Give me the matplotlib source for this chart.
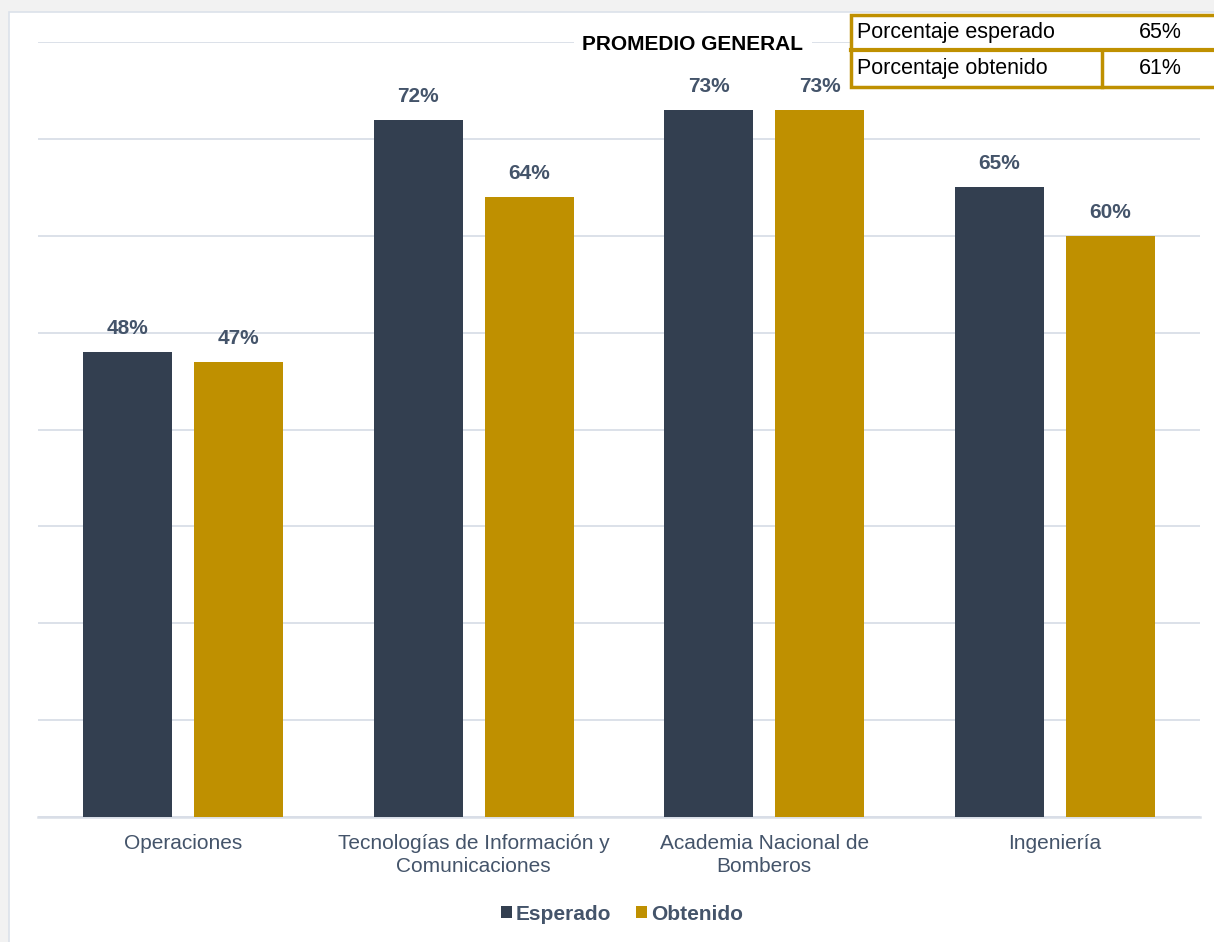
import matplotlib
matplotlib.use("Agg")
import matplotlib.pyplot as plt
from matplotlib.patches import Rectangle
from matplotlib.lines import Line2D
import numpy as np

categories = ["Operaciones", "Tecnologías de Información y\nComunicaciones",
              "Academia Nacional de\nBomberos", "Ingeniería"]
esperado = [0.48, 0.72, 0.73, 0.65]
obtenido = [0.47, 0.64, 0.73, 0.60]
series_names = ["Esperado", "Obtenido"]
table_labels = ["Porcentaje esperado", "Porcentaje obtenido"]
table_values = ["65%", "61%"]
title = "PROMEDIO GENERAL"

DARK = "#333F50"
GOLD = "#BF9000"
TXT = "#44546A"
GRID = "#D9DEE7"

plt.rcParams['font.family'] = ['Liberation Sans', 'DejaVu Sans']

W, H = 1214, 942
fig = plt.figure(figsize=(W / 100, H / 100), dpi=100)
fig.patch.set_facecolor("#F2F2F2")

def fx(x): return x / W
def fy(y): return 1 - y / H

# white panel
fig.patches.append(Rectangle((fx(9), fy(945)), fx(1220) - fx(9), fy(12) - fy(945),
                             transform=fig.transFigure, facecolor="white",
                             edgecolor="#DCE2EA", linewidth=1.2, zorder=-5))

ax = fig.add_axes([fx(38), fy(817), fx(1200) - fx(38), fy(42) - fy(817)])
ax.set_zorder(1)
ax.set_facecolor("none")
x = np.arange(len(categories))
bw = 0.306
off = 0.191
b1 = ax.bar(x - off, esperado, bw, color=DARK, zorder=3, label=series_names[0])
b2 = ax.bar(x + off, obtenido, bw, color=GOLD, zorder=3, label=series_names[1])
for bars, vals in ((b1, esperado), (b2, obtenido)):
    for r, v in zip(bars, vals):
        ax.annotate(f"{v*100:.0f}%", (r.get_x() + r.get_width() / 2, v),
                    xytext=(0, 10), textcoords="offset points", ha="center",
                    va="bottom", fontsize=15, fontweight="bold", color=TXT)

ax.set_xlim(-0.5, 3.5)
ax.set_ylim(0, 0.8)
ax.set_yticks(np.arange(0, 0.81, 0.1))
ax.yaxis.grid(True, color=GRID, linewidth=1.3, zorder=0)
ax.set_axisbelow(True)
ax.tick_params(axis="y", left=False, labelleft=False)
ax.tick_params(axis="x", length=0, pad=12, labelsize=15, labelcolor=TXT)
ax.set_xticks(x)
ax.set_xticklabels(categories, linespacing=1.3)
for s in ["top", "right", "left"]:
    ax.spines[s].set_visible(False)
ax.spines["bottom"].set_color(GRID)
ax.spines["bottom"].set_linewidth(1.8)

fig.text(fx(693), fy(45), title, ha="center", va="center", fontsize=15,
         fontweight="bold", color="black", zorder=4,
         bbox=dict(facecolor="white", edgecolor="none", pad=6))

# legend
leg = fig.legend(handles=[b1, b2], labels=series_names, loc="center",
                 bbox_to_anchor=(fx(622), fy(914)), ncol=2, frameon=False,
                 handlelength=0.5, handleheight=0.5, handletextpad=0.2,
                 columnspacing=1.2, prop=dict(size=15, weight="bold"))
for t in leg.get_texts():
    t.set_color(TXT)

# table top right
tl, tt, tb, tmid, tcol = 851, 15, 87, 50, 1102
fig.patches.append(Rectangle((fx(tl), fy(tb)), fx(1230) - fx(tl), fy(tt) - fy(tb),
                             transform=fig.transFigure, facecolor="white",
                             edgecolor=GOLD, linewidth=2.5, zorder=5))
fig.lines.append(Line2D([fx(tl), fx(1230)], [fy(tmid), fy(tmid)],
                        transform=fig.transFigure, color=GOLD, linewidth=3, zorder=6))
fig.lines.append(Line2D([fx(tcol), fx(tcol)], [fy(tmid), fy(tb)],
                        transform=fig.transFigure, color=GOLD, linewidth=2.5, zorder=6))
for i, (lab, val) in enumerate(zip(table_labels, table_values)):
    yc = (tt + tmid) / 2 if i == 0 else (tmid + tb) / 2
    fig.text(fx(857), fy(yc), lab, ha="left", va="center", fontsize=15.5,
             color="black", zorder=7)
    fig.text(fx(1160), fy(yc), val, ha="center", va="center", fontsize=15.5,
             color="black", zorder=7)

fig.savefig("out.png", dpi=100)
